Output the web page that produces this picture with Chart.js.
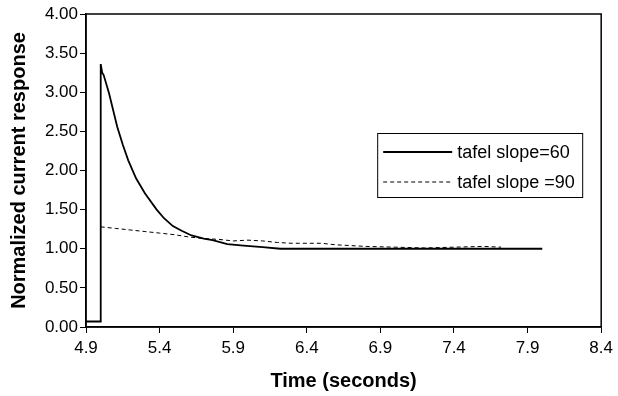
<!DOCTYPE html>
<html>
<head>
<meta charset="utf-8">
<script src="https://cdn.jsdelivr.net/npm/chart.js@4.4.1/dist/chart.umd.min.js"></script>
<style>
  html, body { margin: 0; padding: 0; background: #fff; }
</style>
</head>
<body>
<canvas id="chart" width="618" height="396"></canvas>
<script>
// ── Data ─────────────────────────────────────────────────────────────────────
const X_TICKS = [4.9, 5.4, 5.9, 6.4, 6.9, 7.4, 7.9, 8.4];

const SLOPE60_T = [4.9, 5.0, 5.0, 5.01, 5.02, 5.056, 5.112, 5.15, 5.187, 5.24, 5.30, 5.38, 5.43, 5.49,
                   5.55, 5.617, 5.70, 5.76, 5.86, 5.97, 6.10, 6.22, 8.0];
const SLOPE60_Y = [0.07, 0.07, 3.36, 3.25, 3.22, 2.99, 2.56, 2.33, 2.13, 1.90, 1.71, 1.50, 1.39, 1.29,
                   1.23, 1.17, 1.13, 1.11, 1.06, 1.04, 1.02, 1.00, 1.00];

const SLOPE90_T = [5.0, 5.1, 5.2, 5.3, 5.4, 5.5, 5.6, 5.7, 5.8, 5.9, 6.0, 6.1, 6.2, 6.3, 6.5, 6.6,
                   6.8, 7.0, 7.2, 7.4, 7.6, 7.72];
const SLOPE90_Y = [1.28, 1.26, 1.24, 1.22, 1.20, 1.18, 1.15, 1.13, 1.12, 1.10, 1.11, 1.10, 1.08, 1.07, 1.07, 1.05,
                   1.03, 1.02, 1.01, 1.02, 1.03, 1.02];

const LABELS = ['tafel slope=60', 'tafel slope =90'];

// ── Helpers ──────────────────────────────────────────────────────────────────
const FONT_FAMILY = '"Liberation Sans", Arial, Helvetica, sans-serif';
const pts = (xs, ys) => xs.map((x, i) => ({ x, y: ys[i] }));

// box round the plot area
const framePlugin = {
  id: 'frame',
  afterDatasetsDraw(chart) {
    const { ctx, chartArea: a } = chart;
    ctx.save();
    ctx.strokeStyle = '#000';
    ctx.lineWidth = 1.5;
    ctx.strokeRect(a.left, a.top, a.right - a.left, a.bottom - a.top);
    ctx.restore();
  },
};

// legend drawn inside the plot, boxed, like the original
const boxLegend = {
  id: 'boxLegend',
  afterDraw(chart) {
    const { ctx, chartArea: a } = chart;
    const w = 205, h = 64;
    const x = a.right - 19 - w, y = a.top + 119;
    ctx.save();
    ctx.fillStyle = '#fff';
    ctx.fillRect(x, y, w, h);
    ctx.strokeStyle = '#000';
    ctx.lineWidth = 1;
    ctx.strokeRect(x + 0.5, y + 0.5, w, h);
    ctx.font = '18px ' + FONT_FAMILY;
    ctx.textBaseline = 'middle';
    chart.data.datasets.forEach((ds, i) => {
      const ry = y + 19 + i * 30;
      ctx.beginPath();
      ctx.setLineDash(ds.borderDash || []);
      ctx.lineWidth = ds.borderWidth;
      ctx.strokeStyle = ds.borderColor;
      ctx.moveTo(x + 6, ry);
      ctx.lineTo(x + 75, ry);
      ctx.stroke();
      ctx.setLineDash([]);
      ctx.fillStyle = '#000';
      ctx.fillText(ds.label, x + 80, ry + 1);
    });
    ctx.restore();
  },
};

new Chart(document.getElementById('chart').getContext('2d'), {
  type: 'line',
  data: {
    datasets: [
      {
        label: LABELS[0],
        data: pts(SLOPE60_T, SLOPE60_Y),
        borderColor: '#000', borderWidth: 1.8,
        pointRadius: 0, tension: 0, fill: false,
      },
      {
        label: LABELS[1],
        data: pts(SLOPE90_T, SLOPE90_Y),
        borderColor: '#000', borderWidth: 1, borderDash: [4, 3],
        pointRadius: 0, tension: 0, fill: false,
      },
    ],
  },
  options: {
    responsive: false, animation: false,
    layout: { padding: { left: 7, right: 16, top: 14, bottom: 3 } },
    plugins: { legend: { display: false }, tooltip: { enabled: false } },
    scales: {
      x: {
        type: 'linear', min: 4.9, max: 8.4,
        afterBuildTicks: s => { s.ticks = X_TICKS.map(v => ({ value: v })); },
        afterFit: s => { s.height = 66; },
        ticks: {
          color: '#000', font: { family: FONT_FAMILY, size: 17 }, padding: 5,
          maxRotation: 0, autoSkip: false,
          callback: v => v.toFixed(1),
        },
        grid: { drawOnChartArea: false, drawTicks: true, tickLength: 6, color: '#000', lineWidth: 1 },
        border: { color: '#000', width: 1.5 },
        title: {
          display: true, text: 'Time (seconds)', color: '#000',
          font: { family: FONT_FAMILY, size: 20, weight: 'bold' }, padding: 0,
        },
      },
      y: {
        min: 0, max: 4,
        afterFit: s => { s.width = 79; },
        ticks: {
          stepSize: 0.5, color: '#000', font: { family: FONT_FAMILY, size: 17 }, padding: 2,
          callback: v => v.toFixed(2),
        },
        grid: { drawOnChartArea: false, drawTicks: true, tickLength: 6, color: '#000', lineWidth: 1 },
        border: { color: '#000', width: 1.5 },
        title: {
          display: true, text: 'Normalized current response', color: '#000',
          font: { family: FONT_FAMILY, size: 20, weight: 'bold' }, padding: 0,
        },
      },
    },
  },
  plugins: [framePlugin, boxLegend],
});
</script>
</body>
</html>
